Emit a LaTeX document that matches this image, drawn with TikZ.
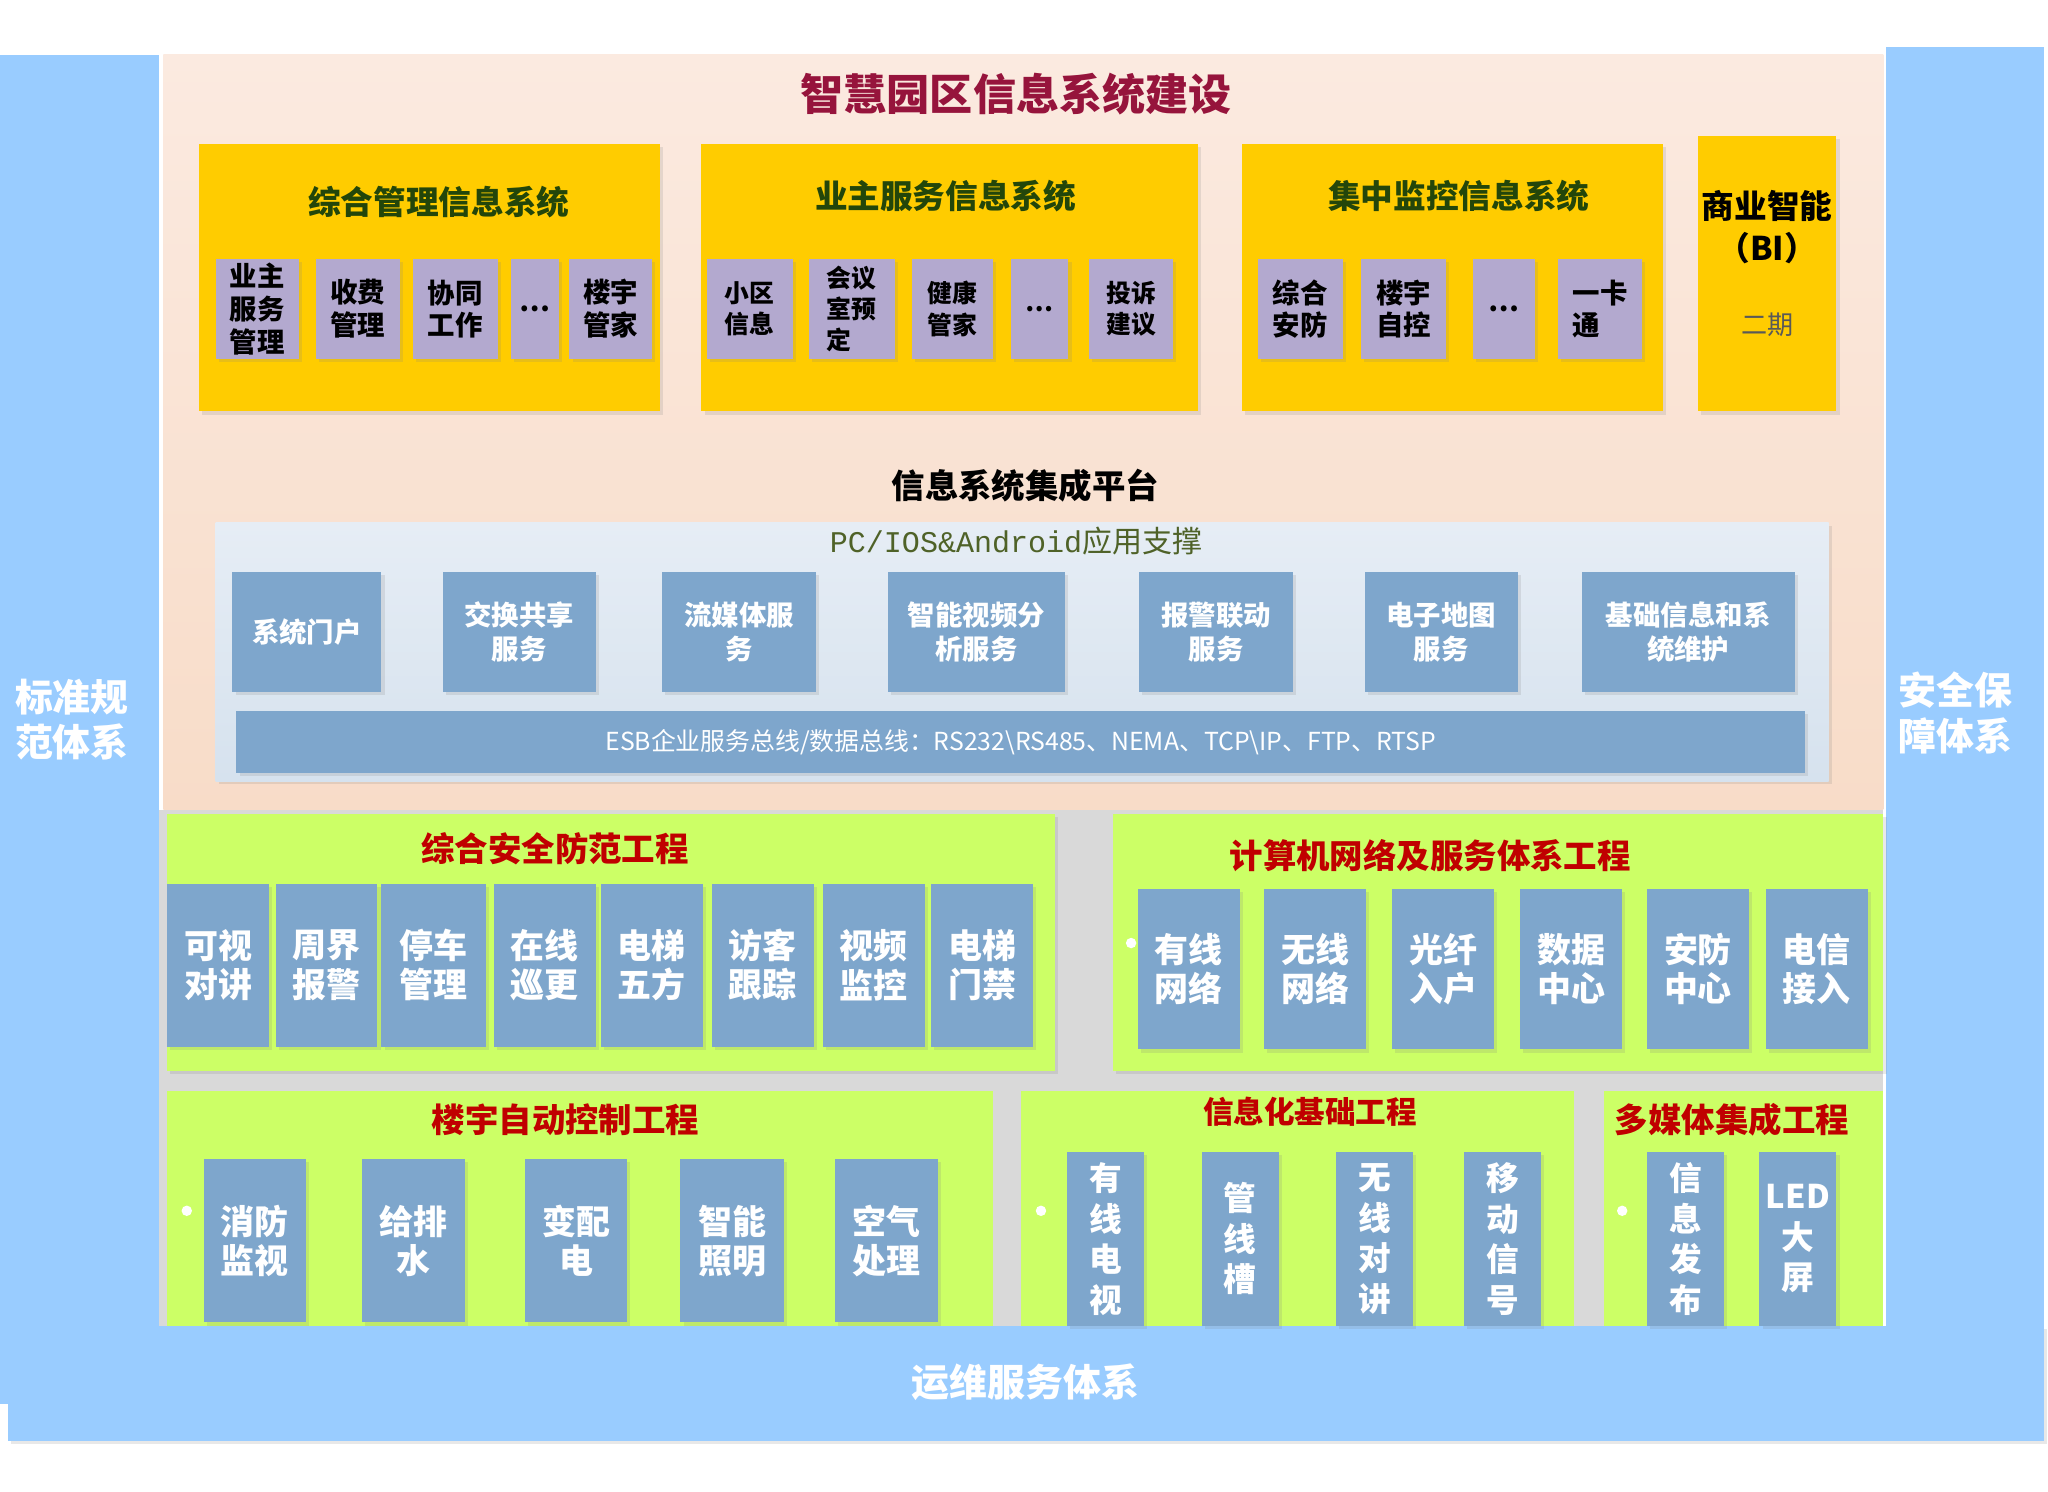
\documentclass[tikz,border=0pt]{standalone}
\usepackage{fontspec}
\setmainfont{Noto Sans CJK SC}
\setmonofont{Liberation Mono}
\usetikzlibrary{shadows}
\definecolor{barblue}{RGB}{153,204,255}
\definecolor{peach}{RGB}{248,220,200}
\definecolor{peachtop}{RGB}{251,234,224}
\definecolor{sysyellow}{RGB}{255,204,0}
\definecolor{lavender}{RGB}{179,169,207}
\definecolor{steel}{RGB}{126,166,204}
\definecolor{paneltop}{RGB}{230,237,245}
\definecolor{panelbot}{RGB}{214,226,238}
\definecolor{limegreen}{RGB}{204,255,102}
\definecolor{groundgray}{RGB}{217,217,217}
\definecolor{maroon}{RGB}{150,20,60}
\definecolor{engred}{RGB}{192,0,0}
\definecolor{sysgreen}{RGB}{35,70,10}
\definecolor{olive}{RGB}{79,98,40}

\begin{document}
\begin{tikzpicture}[x=0.5pt, y=-0.5pt,
  softshadow/.style={drop shadow={opacity=0.18, shadow xshift=1.2pt, shadow yshift=-1.2pt}},
  bartext/.style={text=white, align=center, font=\fontsize{14.5}{17.5}\selectfont\bfseries},
  systitle/.style={text=sysgreen, font=\fontsize{12.5}{15}\selectfont\bfseries},
  engtitle/.style={text=engred, font=\fontsize{12.8}{15}\selectfont\bfseries},
  lavbox/.style={fill=lavender, inner sep=0pt, align=left, text=black, minimum height=38.5pt, softshadow},
  svcbox/.style={fill=steel, inner sep=0pt, align=center, text=white, minimum height=46pt, softshadow,
    font=\fontsize{10.5}{13}\selectfont\bfseries},
  itembox/.style={fill=steel, inner sep=0pt, align=center, text=white, softshadow,
    font=\fontsize{13}{15}\selectfont\bfseries},
  wdot/.style={circle, fill=white, inner sep=0pt, minimum size=4pt}]
  \useasboundingbox (0,0) rectangle (1568,1142);
  % backgrounds
  \fill[groundgray] (122,620) rectangle (1442,1015);
  \shade[top color=peachtop, bottom color=peach] (125,42) rectangle (1442,620);
  \fill[barblue] (0,42) rectangle (122,1075);
  \fill[barblue] (1444,36) rectangle (1565,1103);
  \fill[barblue, softshadow] (6,1015) rectangle (1565,1103);
  \node[bartext] (std) at (55,551) {标准规\\范体系};
  \node[bartext] (sec) at (1497,546) {安全保\\障体系};
  \node[bartext] (ops) at (785,1058) {运维服务体系};
  \node[text=maroon, font=\fontsize{16.5}{20}\selectfont\bfseries] (title) at (778,72) {智慧园区信息系统建设};

  % application systems
  \fill[sysyellow, softshadow] (152,110) rectangle (505,315);
  \fill[sysyellow, softshadow] (537,110) rectangle (917,315);
  \fill[sysyellow, softshadow] (951,110) rectangle (1273,315);
  \fill[sysyellow, softshadow] (1300,104) rectangle (1406,315);
  \node[systitle] (mgmt) at (336,155) {综合管理信息系统};
  \node[systitle] (owner) at (724,150) {业主服务信息系统};
  \node[systitle] (mon) at (1117,150) {集中监控信息系统};
  \node[text=black, font=\fontsize{12.5}{15}\selectfont\bfseries] (bi) at (1353,158) {商业智能};
  \node[text=black, font=\fontsize{12.5}{15}\selectfont\bfseries] (bi2) at (1353,190) {（BI）};
  \node[text=black!65, font=\fontsize{10}{12}\selectfont] (phase) at (1353,249) {二期};
  \begin{scope}[font=\fontsize{10.5}{12.5}\selectfont\bfseries]
    \foreach \n/\p/\q/\lbl in {m1/165/229/{业主\\服务\\管理}, m2/242/306/{收费\\管理}, m3/316/381/{协同\\工作},
        m4/391/428/{…}, m5/436/499/{楼宇\\管家}, c1/963/1028/{综合\\安防}, c2/1042/1107/{楼宇\\自控},
        c3/1128/1175/{…}, c4/1193/1257/{一卡\\通}}
      \node[lavbox, minimum width={(\q-\p)*0.5pt}] (\n) at ({(\p+\q)/2},236.5) {\lbl};
  \end{scope}
  \begin{scope}[font=\fontsize{9.5}{12}\selectfont\bfseries]
    \foreach \n/\p/\q/\lbl in {o1/541/607/{小区\\信息}, o2/619/685/{会议\\室预\\定}, o3/698/760/{健康\\管家},
        o4/774/818/{…}, o5/834/898/{投诉\\建议}}
      \node[lavbox, minimum width={(\q-\p)*0.5pt}] (\n) at ({(\p+\q)/2},236.5) {\lbl};
  \end{scope}

  % integration platform
  \node[font=\fontsize{12.8}{15}\selectfont\bfseries] (platform) at (785,372) {信息系统集成平台};
  \shade[top color=paneltop, bottom color=panelbot, softshadow] (165,400) rectangle (1400,598);
  \node[text=olive, font=\fontsize{11.5}{14}\selectfont] (support) at (778,414) {{\ttfamily PC/IOS\&Android}应用支撑};
  \foreach \n/\p/\q/\lbl in {s1/178/292/{系统门户}, s2/339/456/{交换共享\\服务}, s3/507/625/{流媒体服\\务},
      s4/680/815/{智能视频分\\析服务}, s5/872/990/{报警联动\\服务}, s6/1045/1162/{电子地图\\服务},
      s7/1211/1374/{基础信息和系\\统维护}}
    \node[svcbox, minimum width={(\q-\p)*0.5pt}] (\n) at ({(\p+\q)/2},484) {\lbl};
  \node[svcbox, minimum width=600.5pt, minimum height=24pt, font=\fontsize{9.5}{12}\selectfont] (esb) at (781.5,568)
    {ESB企业服务总线/数据总线：RS232\textbackslash RS485、NEMA、TCP\textbackslash IP、FTP、RTSP};

  % engineering projects
  \fill[limegreen, softshadow] (128,623) rectangle (808,820);
  \fill[limegreen, softshadow] (852,623) rectangle (1442,820);
  \fill[limegreen] (128,835) rectangle (760,1015);
  \fill[limegreen] (782,835) rectangle (1205,1015);
  \fill[limegreen] (1228,835) rectangle (1442,1015);
  \node[engtitle] (safety) at (425,650) {综合安全防范工程};
  \node[engtitle] (network) at (1095,655) {计算机网络及服务体系工程};
  \node[engtitle] (bas) at (433,857) {楼宇自动控制工程};
  \node[engtitle, font=\fontsize{11.7}{14}\selectfont\bfseries] (infra) at (1003,851) {信息化基础工程};
  \node[engtitle] (media) at (1326,857) {多媒体集成工程};
  \foreach \n/\p/\q/\lbl in {a1/128/206/{可视\\对讲}, a2/211/289/{周界\\报警}, a3/292/372/{停车\\管理},
      a4/378/456/{在线\\巡更}, a5/460/538/{电梯\\五方}, a6/545/623/{访客\\跟踪}, a7/630/708/{视频\\监控},
      a8/713/791/{电梯\\门禁}}
    \node[itembox, minimum width={(\q-\p)*0.5pt}, minimum height=62.5pt] (\n) at ({(\p+\q)/2},739) {\lbl};
  \foreach \n/\p/\q/\lbl in {n1/871/949/{有线\\网络}, n2/968/1046/{无线\\网络}, n3/1066/1144/{光纤\\入户},
      n4/1164/1242/{数据\\中心}, n5/1261/1339/{安防\\中心}, n6/1352/1430/{电信\\接入}}
    \node[itembox, minimum width={(\q-\p)*0.5pt}, minimum height=61.5pt] (\n) at ({(\p+\q)/2},742) {\lbl};
  \foreach \n/\p/\q/\lbl in {b1/156/234/{消防\\监视}, b2/277/356/{给排\\水}, b3/402/480/{变配\\电},
      b4/521/600/{智能\\照明}, b5/639/718/{空气\\处理}}
    \node[itembox, minimum width={(\q-\p)*0.5pt}, minimum height=62.5pt] (\n) at ({(\p+\q)/2},950) {\lbl};
  \foreach \n/\p/\q/\lbl in {i1/817/876/{有\\线\\电\\视}, i2/920/979/{管\\线\\槽}, i3/1023/1082/{无\\线\\对\\讲},
      i4/1121/1180/{移\\动\\信\\号}, j1/1261/1320/{信\\息\\发\\布}, j2/1347/1406/{LED\\大\\屏}}
    \node[itembox, font=\fontsize{12.5}{15.5}\selectfont\bfseries, minimum width={(\q-\p)*0.5pt},
      minimum height=66.5pt] (\n) at ({(\p+\q)/2},948.5) {\lbl};
  % small bullets
  \node[wdot] (d1) at (866,722) {};
  \node[wdot] (d2) at (143,927) {};
  \node[wdot] (d3) at (797,927) {};
  \node[wdot] (d4) at (1242,927) {};
\end{tikzpicture}
\end{document}
